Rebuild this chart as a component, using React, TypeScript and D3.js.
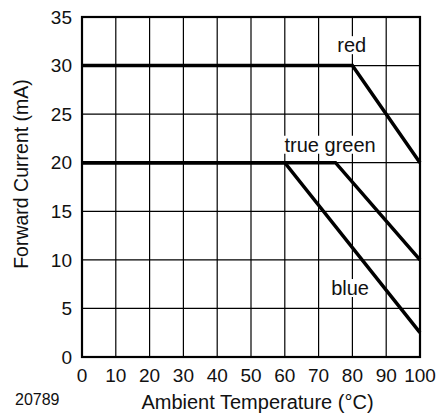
import { useEffect, useRef } from "react";
import * as d3 from "d3";

const xTicks = [0, 10, 20, 30, 40, 50, 60, 70, 80, 90, 100];
const yTicks = [0, 5, 10, 15, 20, 25, 30, 35];

const redCurve: [number, number][] = [[0, 30], [80, 30], [100, 20]];
const greenCurve: [number, number][] = [[0, 20], [75, 20], [100, 10]];
const blueCurve: [number, number][] = [[0, 20], [60, 20], [100, 2.5]];

const curveLabels = [
  { text: "red", x: 79.8, y: 32.1 },
  { text: "true green", x: 73.4, y: 21.85 },
  { text: "blue", x: 79.3, y: 7.1 },
];

export default function App() {
  const ref = useRef<SVGSVGElement>(null);

  useEffect(() => {
    document.body.style.margin = "0";
    if (!ref.current) return;
    const w = 438,
      h = 415,
      margin = { top: 17, right: 18, bottom: 58, left: 82 };
    const font = "'Liberation Sans', Arial, sans-serif";
    const ink = "#111";

    const svg = d3.select(ref.current);
    svg.selectAll("*").remove();
    svg.attr("width", w).attr("height", h).style("display", "block");

    const x = d3.scaleLinear().domain([0, 100]).range([margin.left, w - margin.right]);
    const y = d3.scaleLinear().domain([0, 35]).range([h - margin.bottom, margin.top]);

    // grid
    svg
      .append("g")
      .selectAll("line")
      .data(xTicks)
      .join("line")
      .attr("x1", (d) => x(d))
      .attr("x2", (d) => x(d))
      .attr("y1", y(0))
      .attr("y2", y(35))
      .attr("stroke", "#000")
      .attr("stroke-width", 1.2);
    svg
      .append("g")
      .selectAll("line")
      .data(yTicks)
      .join("line")
      .attr("x1", x(0))
      .attr("x2", x(100))
      .attr("y1", (d) => y(d))
      .attr("y2", (d) => y(d))
      .attr("stroke", "#000")
      .attr("stroke-width", 1.2);

    // labels with white backing
    const lab = svg
      .append("g")
      .selectAll("g")
      .data(curveLabels)
      .join("g")
      .attr("transform", (d) => `translate(${x(d.x)},${y(d.y)})`);
    lab
      .append("text")
      .attr("text-anchor", "middle")
      .attr("dy", "0.35em")
      .attr("font-family", font)
      .attr("font-size", 20)
      .attr("fill", ink)
      .text((d) => d.text)
      .each(function () {
        const b = (this as SVGTextElement).getBBox();
        d3.select((this as SVGTextElement).parentNode as SVGGElement)
          .insert("rect", "text")
          .attr("x", b.x - 2)
          .attr("y", b.y + 2)
          .attr("width", b.width + 4)
          .attr("height", b.height - 4)
          .attr("fill", "#fff");
      });

    // curves
    const line = d3
      .line<[number, number]>()
      .x((d) => x(d[0]))
      .y((d) => y(d[1]));
    svg
      .append("g")
      .selectAll("path")
      .data([redCurve, greenCurve, blueCurve])
      .join("path")
      .attr("d", (d) => line(d))
      .attr("fill", "none")
      .attr("stroke", "#000")
      .attr("stroke-width", 3.5);

    // frame
    svg
      .append("rect")
      .attr("x", x(0))
      .attr("y", y(35))
      .attr("width", x(100) - x(0))
      .attr("height", y(0) - y(35))
      .attr("fill", "none")
      .attr("stroke", "#000")
      .attr("stroke-width", 2.2);

    // tick labels
    svg
      .append("g")
      .selectAll("text")
      .data(xTicks)
      .join("text")
      .attr("x", (d) => x(d))
      .attr("y", y(0) + 25)
      .attr("text-anchor", "middle")
      .attr("font-family", font)
      .attr("font-size", 19)
      .attr("fill", ink)
      .text((d) => d);
    svg
      .append("g")
      .selectAll("text")
      .data(yTicks)
      .join("text")
      .attr("x", x(0) - 10)
      .attr("y", (d) => y(d))
      .attr("dy", "0.35em")
      .attr("text-anchor", "end")
      .attr("font-family", font)
      .attr("font-size", 19)
      .attr("fill", ink)
      .text((d) => d);

    // axis titles
    svg
      .append("text")
      .attr("x", 257.5)
      .attr("y", 409)
      .attr("text-anchor", "middle")
      .attr("font-family", font)
      .attr("font-size", 20)
      .attr("fill", ink)
      .text("Ambient Temperature (°C)");
    svg
      .append("text")
      .attr("transform", `translate(28,${174}) rotate(-90)`)
      .attr("text-anchor", "middle")
      .attr("font-family", font)
      .attr("font-size", 19.5)
      .attr("fill", ink)
      .text("Forward Current (mA)");
    svg
      .append("text")
      .attr("x", 15)
      .attr("y", 405)
      .attr("font-family", font)
      .attr("font-size", 16)
      .attr("fill", ink)
      .text("20789");
  }, []);

  return <svg ref={ref} />;
}
